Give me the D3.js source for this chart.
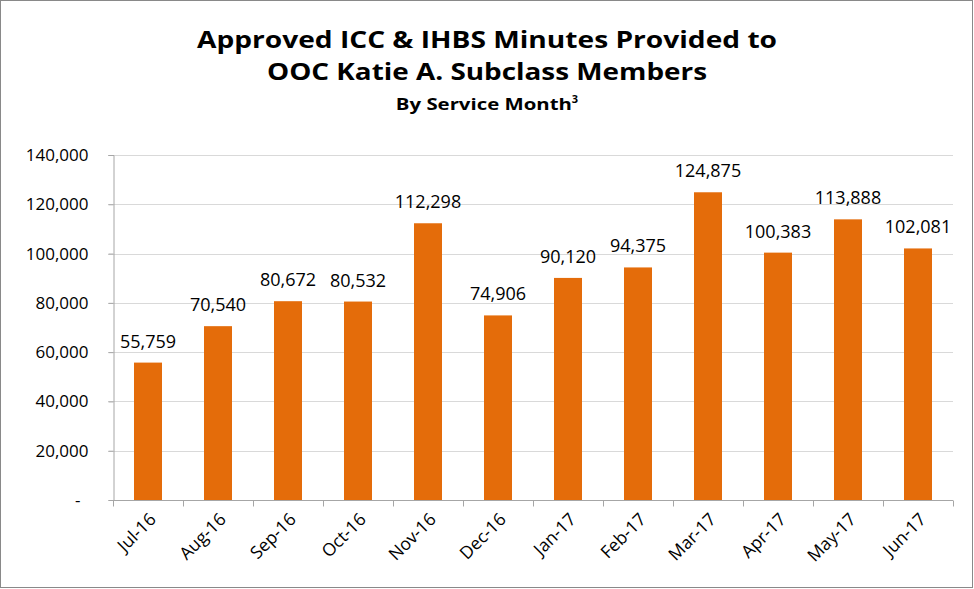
<!DOCTYPE html>
<meta charset="utf-8">
<style>
body { margin: 0; background: #fff; }
text { font-family: "Open Sans", sans-serif; fill: #000; }
.grid line { stroke: #d9d9d9; stroke-width: 1px; }
.axis path, .axis line { stroke: #a6a6a6; }
</style>
<body>
<svg width="974" height="589"></svg>
<script src="https://cdnjs.cloudflare.com/ajax/libs/d3/7.8.5/d3.min.js"></script>
<script>

// data
var months = ["Jul-16", "Aug-16", "Sep-16", "Oct-16", "Nov-16", "Dec-16",
              "Jan-17", "Feb-17", "Mar-17", "Apr-17", "May-17", "Jun-17"];
var minutes = [55759, 70540, 80672, 80532, 112298, 74906,
               90120, 94375, 124875, 100383, 113888, 102081];
var yTicks = [0, 20000, 40000, 60000, 80000, 100000, 120000, 140000];

var svg = d3.select("svg"),
    W = +svg.attr("width"),
    H = +svg.attr("height");

var margin = {top: 155, right: 21, bottom: 89, left: 113},
    width = W - margin.left - margin.right,
    height = H - margin.top - margin.bottom;

// outer chart border
svg.append("rect")
    .attr("x", 0.5).attr("y", 0.5)
    .attr("width", W - 2).attr("height", H - 2)
    .attr("fill", "#fff")
    .attr("stroke", "#898989");

// titles
var titles = [
  {t: "Approved ICC & IHBS Minutes Provided to", y: 48, len: 580},
  {t: "OOC Katie A. Subclass Members", y: 80, len: 440}
];
svg.selectAll(".title").data(titles).enter().append("text")
    .attr("class", "title")
    .attr("x", W / 2)
    .attr("y", function(d) { return d.y; })
    .attr("text-anchor", "middle")
    .attr("textLength", function(d) { return d.len; })
    .attr("lengthAdjust", "spacingAndGlyphs")
    .style("font-weight", "bold")
    .style("font-size", "23px")
    .text(function(d) { return d.t; });

var sub = svg.append("text")
    .attr("x", W / 2)
    .attr("y", 110)
    .attr("text-anchor", "middle")
    .style("font-weight", "bold")
    .style("font-size", "16px");
sub.append("tspan").text("By Service Month")
    .attr("textLength", 176)
    .attr("lengthAdjust", "spacingAndGlyphs");
sub.append("tspan").text("3").attr("dy", -7).style("font-size", "11px");

var g = svg.append("g")
    .attr("transform", "translate(" + margin.left + "," + margin.top + ")");

var x = d3.scaleBand()
    .domain(months)
    .range([0, width])
    .paddingInner(0.6)
    .paddingOuter(0.3);

var y = d3.scaleLinear()
    .domain([0, 140000])
    .range([height, 0]);

// gridlines
g.append("g").attr("class", "grid")
  .selectAll("line")
  .data(yTicks.slice(1))
  .enter().append("line")
    .attr("x1", -5).attr("x2", width)
    .attr("y1", function(d) { return Math.round(y(d)) + 0.5; })
    .attr("y2", function(d) { return Math.round(y(d)) + 0.5; });

// y axis
var yAxis = g.append("g")
    .attr("class", "axis")
    .attr("transform", "translate(0.5,0)")
    .call(d3.axisLeft(y)
      .tickValues(yTicks)
      .tickSize(5)
      .tickPadding(20)
      .tickFormat(function(d) { return d === 0 ? "-" : d3.format(",")(d); }));
yAxis.selectAll("text")
    .style("font-size", "17px")
    .attr("dx", function(d) { return d === 0 ? -8 : 0; });

// x axis, ticks between categories
var xEdges = months.map(function(m) { return x(m) - x.step() * x.paddingInner() / 2; });
xEdges.push(width);
var xAxis = g.append("g")
    .attr("class", "axis")
    .attr("transform", "translate(0," + (height + 0.5) + ")");
xAxis.append("line")
    .attr("x1", 0).attr("x2", width);
xAxis.selectAll(".tk").data(xEdges).enter().append("line")
    .attr("class", "tk")
    .attr("x1", function(d) { return Math.round(d) + 0.5; })
    .attr("x2", function(d) { return Math.round(d) + 0.5; })
    .attr("y1", 0).attr("y2", 6);

xAxis.selectAll(".lbl").data(months).enter().append("text")
    .attr("class", "lbl")
    .attr("text-anchor", "end")
    .attr("transform", function(d) {
      return "translate(" + (x(d) + x.bandwidth() / 2 + 9) + ",20) rotate(-45)";
    })
    .style("font-size", "17.5px")
    .text(function(d) { return d; });

// bars
g.selectAll(".bar")
  .data(minutes)
  .enter().append("rect")
    .attr("class", "bar")
    .attr("x", function(d, i) { return x(months[i]); })
    .attr("y", function(d) { return y(d); })
    .attr("width", x.bandwidth())
    .attr("height", function(d) { return height - y(d); })
    .attr("fill", "#E46C0A");

// value labels
g.selectAll(".val")
  .data(minutes)
  .enter().append("text")
    .attr("class", "val")
    .attr("x", function(d, i) { return x(months[i]) + x.bandwidth() / 2; })
    .attr("y", function(d) { return y(d) - 15; })
    .attr("text-anchor", "middle")
    .style("font-size", "18px")
    .text(function(d) { return d3.format(",")(d); });

</script>
</body>
